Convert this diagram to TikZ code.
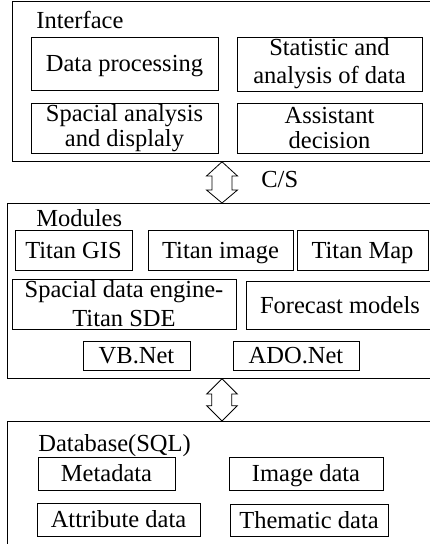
\documentclass[tikz,border=0pt]{standalone}
\usepackage{fontspec}
\setmainfont{Liberation Serif}
\begin{document}
\begin{tikzpicture}[x=1pt,y=-1pt,line width=0.8pt,
  txt/.style={font=\fontsize{24.5}{28}\selectfont},
  onebox/.style={txt,draw,inner sep=0pt,align=center,text height=16pt,text depth=0pt},
  twobox/.style={txt,draw,inner sep=0pt,align=center},
  lbl/.style={txt,inner sep=0pt,anchor=base west},
  outer/.style={draw,inner sep=0pt,anchor=north west,minimum width=440pt},
  blockarrow/.style={draw,fill=white,line join=miter}]
\useasboundingbox (0,0) rectangle (430,544);
\clip (0,0) rectangle (430,544);
% outer frames
\node[outer,minimum height=160pt] (iface) at (12,1) {};
\node[outer,minimum height=175pt] (mods) at (7,203) {};
\node[outer,minimum height=150pt] (db) at (7,421) {};
% Interface
\node[lbl] (ifl) at (36,28) {Interface};
\node[onebox,minimum width=187pt,minimum height=53pt] (dp) at (124.5,63.5) {Data processing};
\node[twobox,minimum width=185pt,minimum height=54pt,font=\fontsize{24.5}{28}\selectfont] (stat) at (329.5,64) {Statistic and\\analysis of data};
\node[twobox,minimum width=187pt,minimum height=50pt,font=\fontsize{24.5}{25.5}\selectfont] (spa) at (124.5,128) {Spacial analysis\\and displaly};
\node[twobox,minimum width=185pt,minimum height=50pt,font=\fontsize{24.5}{25.5}\selectfont] (asst) at (329.5,128) {Assistant\\decision};
% arrow 1
\draw[blockarrow] (iface.south -| 222,0) -- (206.5,176) -- (212,176) -- (212,190) -- (206.5,190)
  -- (mods.north -| 222,0) -- (237.5,190) -- (232,190) -- (232,176) -- (237.5,176) -- cycle;
\node[lbl] (cs) at (261,187) {C/S};
% Modules
\node[lbl] (ml) at (36,226) {Modules};
\node[onebox,minimum width=117pt,minimum height=40pt] (gis) at (73.5,250.5) {Titan GIS};
\node[onebox,minimum width=145pt,minimum height=40pt] (img) at (220.5,250.5) {Titan image};
\node[onebox,minimum width=131pt,minimum height=40pt] (map) at (362.5,250.5) {Titan Map};
\node[twobox,minimum width=224pt,minimum height=50pt,font=\fontsize{24.5}{29}\selectfont] (sde) at (124,304) {Spacial data engine-\\Titan SDE};
\node[onebox,minimum width=188pt,minimum height=48pt] (fc) at (340,305) {Forecast models};
\node[onebox,minimum width=107pt,minimum height=29pt] (vb) at (136.5,355.5) {VB.Net};
\node[onebox,minimum width=126pt,minimum height=29pt] (ado) at (296,355.5) {ADO.Net};
% arrow 2
\draw[blockarrow] (mods.south -| 222,0) -- (206.7,394) -- (211.7,394) -- (211.7,405.7) -- (206.7,405.7)
  -- (db.north -| 222,0) -- (237.3,405.7) -- (231.7,405.7) -- (231.7,394) -- (237.3,394) -- cycle;
% Database
\node[lbl] (dbl) at (38,451) {Database(SQL)};
\node[onebox,minimum width=137pt,minimum height=33pt] (meta) at (106.5,473.5) {Metadata};
\node[onebox,minimum width=154pt,minimum height=33pt] (imgd) at (306,473.5) {Image data};
\node[onebox,minimum width=163pt,minimum height=33pt] (attr) at (118.5,519.5) {Attribute data};
\node[onebox,minimum width=158pt,minimum height=32pt] (them) at (309,520) {Thematic data};
\end{tikzpicture}
\end{document}
